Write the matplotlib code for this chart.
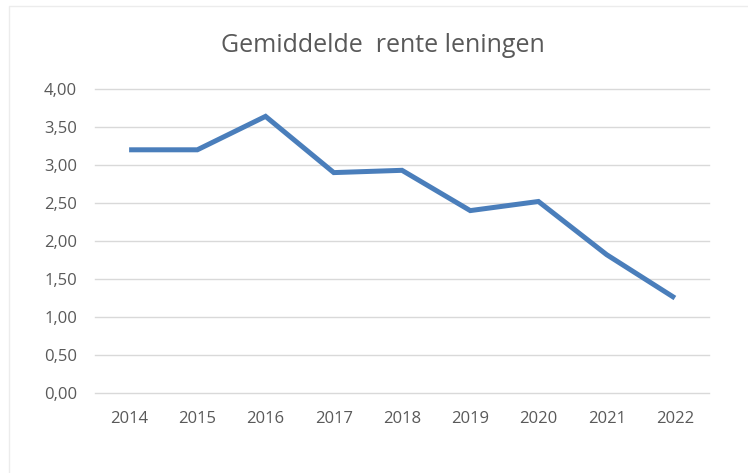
import matplotlib
matplotlib.use("Agg")
import matplotlib.pyplot as plt
from matplotlib.patches import Rectangle

# gemiddelde rente op leningen per jaar (%)
jaren = ["2014", "2015", "2016", "2017", "2018", "2019", "2020", "2021", "2022"]
rente = [3.20, 3.20, 3.64, 2.90, 2.93, 2.40, 2.52, 1.82, 1.25]
y_ticks = [0.0, 0.5, 1.0, 1.5, 2.0, 2.5, 3.0, 3.5, 4.0]
titel = "Gemiddelde  rente leningen"

plt.rcParams['font.family'] = ['Open Sans', 'DejaVu Sans']

fig = plt.figure(figsize=(7.48, 4.73), dpi=100)
fig.patches.append(Rectangle((9 / 748, -0.1), 1.0, 1.1 - 6 / 473, transform=fig.transFigure,
                             fill=False, edgecolor="#ececec", linewidth=1))

ax = fig.add_axes([95 / 748, 1 - 393 / 473, 614 / 748, 304 / 473])
x = list(range(len(jaren)))
ax.plot(x, rente, color="#4a7ebb", linewidth=3.6, solid_capstyle="butt", solid_joinstyle="miter")

ax.set_xlim(-0.5, len(jaren) - 0.5)
ax.set_ylim(0, 4)
ax.set_xticks(x)
ax.set_xticklabels(jaren)
ax.set_yticks(y_ticks)
ax.set_yticklabels([f"{v:.2f}".replace(".", ",") for v in y_ticks])
ax.tick_params(length=0, colors="#595959", labelsize=12)
ax.tick_params(axis="y", pad=13)
ax.tick_params(axis="x", pad=13)
for s in ax.spines.values():
    s.set_visible(False)
ax.grid(axis="y", color="#d9d9d9", linewidth=1)
for line in ax.get_ygridlines():
    line.set_clip_on(False)
ax.set_axisbelow(True)

fig.text(383 / 748, 1 - 45 / 473, titel, ha="center", va="center", fontsize=18, color="#595959")

fig.savefig("out.png", dpi=100)
